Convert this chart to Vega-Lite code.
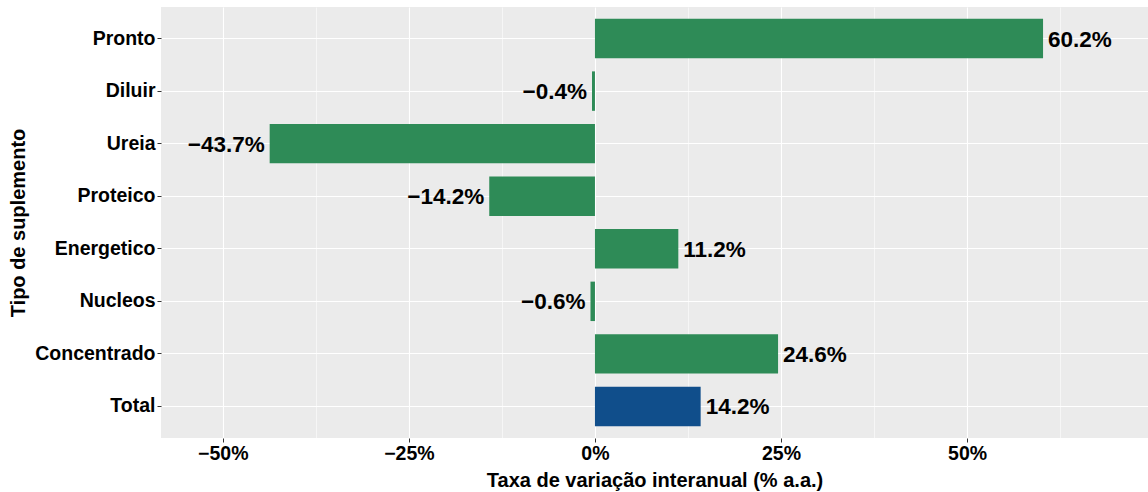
{
  "$schema": "https://vega.github.io/schema/vega-lite/v6.json",
  "autosize": {"type": "none"},
  "padding": {"left": 161, "top": 7, "right": 0, "bottom": 54},
  "width": 987,
  "height": 431,
  "background": "white",
  "config": {
    "font": "Liberation Sans",
    "view": {"fill": "#EBEBEB", "stroke": null}
  },
  "title": {
    "text": "Fonte: ACBRAS",
    "orient": "bottom",
    "anchor": "end",
    "frame": "group",
    "dx": 7,
    "offset": 53,
    "fontSize": 12.5,
    "fontWeight": "bold",
    "color": "black",
    "font": "Liberation Sans"
  },
  "data": {
    "values": [
      {"tipo": "Pronto", "valor": 0.602, "grupo": "Suplemento"},
      {"tipo": "Diluir", "valor": -0.004, "grupo": "Suplemento"},
      {"tipo": "Ureia", "valor": -0.437, "grupo": "Suplemento"},
      {"tipo": "Proteico", "valor": -0.142, "grupo": "Suplemento"},
      {"tipo": "Energetico", "valor": 0.112, "grupo": "Suplemento"},
      {"tipo": "Nucleos", "valor": -0.006, "grupo": "Suplemento"},
      {"tipo": "Concentrado", "valor": 0.246, "grupo": "Suplemento"},
      {"tipo": "Total", "valor": 0.142, "grupo": "Total"}
    ]
  },
  "encoding": {
    "y": {
      "field": "tipo",
      "type": "nominal",
      "sort": ["Pronto", "Diluir", "Ureia", "Proteico", "Energetico", "Nucleos", "Concentrado", "Total"],
      "scale": {"paddingInner": 0.25, "paddingOuter": 0.225},
      "axis": {
        "title": "Tipo de suplemento",
        "titleFontSize": 20,
        "titleFontWeight": "bold",
        "titleColor": "black",
        "titlePadding": 6,
        "labelFontSize": 19.5,
        "labelFontWeight": "bold",
        "labelColor": "black",
        "labelPadding": 2,
        "tickSize": 4,
        "tickColor": "#333333",
        "tickWidth": 1,
        "domain": false,
        "grid": true,
        "gridColor": "white",
        "gridWidth": 1.1,
        "bandPosition": 0.5
      }
    }
  },
  "layer": [
    {
      "mark": {"type": "bar"},
      "encoding": {
        "x": {
          "field": "valor",
          "type": "quantitative",
          "scale": {"domain": [-0.583, 0.743], "nice": false, "zero": false},
          "axis": {
            "orient": "bottom",
            "values": [-0.375, -0.125, 0.125, 0.375, 0.625],
            "grid": true,
            "gridColor": "white",
            "gridWidth": 0.55,
            "labels": false,
            "ticks": false,
            "domain": false,
            "title": null
          }
        },
        "color": {
          "field": "grupo",
          "type": "nominal",
          "scale": {"domain": ["Suplemento", "Total"], "range": ["#2E8B57", "#104E8B"]},
          "legend": null
        }
      }
    },
    {
      "transform": [{"filter": "datum.valor >= 0"}],
      "mark": {"type": "text", "align": "left", "baseline": "middle", "dx": 5, "dy": 1, "fontSize": 22.5, "fontWeight": "bold", "color": "black"},
      "encoding": {
        "x": {
          "field": "valor",
          "type": "quantitative",
          "axis": {
            "orient": "bottom",
            "values": [-0.5, -0.25, 0, 0.25, 0.5],
            "format": ".0%",
            "grid": true,
            "gridColor": "white",
            "gridWidth": 1.1,
            "domain": false,
            "tickSize": 4,
            "tickColor": "#333333",
            "labelFontSize": 19.5,
            "labelFontWeight": "bold",
            "labelColor": "black",
            "labelPadding": 2,
            "title": "Taxa de variação interanual (% a.a.)",
            "titleFontSize": 20,
            "titleFontWeight": "bold",
            "titleColor": "black",
            "titlePadding": 8
          }
        },
        "text": {"field": "valor", "type": "quantitative", "format": ".1%"}
      }
    },
    {
      "transform": [{"filter": "datum.valor < 0"}],
      "mark": {"type": "text", "align": "right", "baseline": "middle", "dx": -5, "dy": 1, "fontSize": 22.5, "fontWeight": "bold", "color": "black"},
      "encoding": {
        "x": {"field": "valor", "type": "quantitative", "axis": null},
        "text": {"field": "valor", "type": "quantitative", "format": ".1%"}
      }
    }
  ],
  "resolve": {"axis": {"x": "independent"}}
}
